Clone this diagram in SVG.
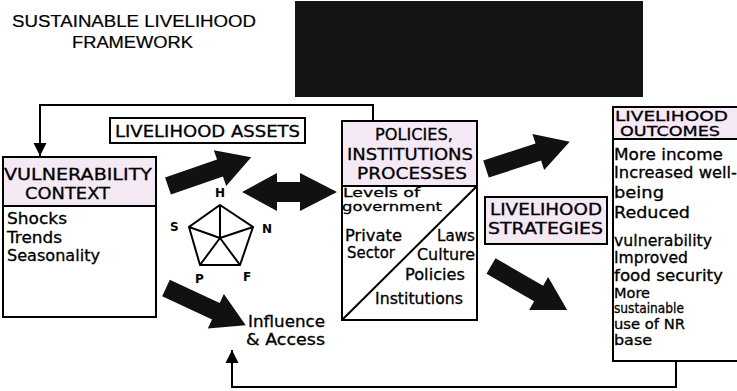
<svg xmlns="http://www.w3.org/2000/svg" width="737" height="391" viewBox="0 0 737 391">
<style>
.box{fill:#fff;stroke:#000;stroke-width:2}
.hd{fill:#f5e9f5;stroke:#000;stroke-width:2}
.t{font-family:"DejaVu Sans","Liberation Sans",sans-serif;font-size:15.5px;fill:#000;stroke:#000;stroke-width:0.3}
.s{font-family:"DejaVu Sans","Liberation Sans",sans-serif;font-size:14px;fill:#000;stroke:#000;stroke-width:0.3}
.xs{font-family:"DejaVu Sans","Liberation Sans",sans-serif;font-size:12.5px;fill:#000;stroke:#000;stroke-width:0.3}
.h{font-family:"DejaVu Sans","Liberation Sans",sans-serif;font-size:15.5px;fill:#000;stroke:#000;stroke-width:0.3}
.ttl{font-family:"Liberation Sans",Arial,sans-serif;font-size:16px;fill:#000;stroke:#000;stroke-width:0.2}
.lbl{font-family:"DejaVu Sans",sans-serif;font-size:12px;font-weight:bold;fill:#000}
.ln{fill:none;stroke:#000;stroke-width:2}
.big{fill:#111}
</style>
<defs>
<path id="fat" d="M0,-9 L55,-9 L55,-19 L88,0 L55,19 L55,9 L0,9 Z"/>
<marker id="ah" viewBox="0 0 10 10" refX="10" refY="5" markerWidth="13" markerHeight="18" markerUnits="userSpaceOnUse" orient="auto"><path d="M0,0 L10,5 L0,10 Z" fill="#000"/></marker>
</defs>
<rect width="737" height="391" fill="#fff"/>

<g id="title">
<text class="ttl" x="12" y="27" textLength="244" lengthAdjust="spacingAndGlyphs">SUSTAINABLE LIVELIHOOD</text>
<text class="ttl" x="72" y="48" textLength="121" lengthAdjust="spacingAndGlyphs">FRAMEWORK</text>
</g>

<g id="blackbox"><rect x="295" y="1" width="348" height="96" fill="#141414"/></g>

<g id="connectors">
<path class="ln" d="M373,121 V105 H40 V156" marker-end="url(#ah)"/>
<path class="ln" d="M676,361 V387 H232 V350" marker-end="url(#ah)"/>
<use href="#fat" class="big" transform="translate(168,186) rotate(-19)"/>
<use href="#fat" class="big" transform="translate(486,169) rotate(-18)"/>
<use href="#fat" class="big" transform="translate(166,288) rotate(25)"/>
<use href="#fat" class="big" transform="translate(491,266) rotate(30)"/>
<path class="big" d="M242,192 L277,173 L277,182 L300,182 L300,173 L337,192 L300,211 L300,202 L277,202 L277,211 Z"/>
</g>

<g id="vulnerability">
<rect class="box" x="3" y="157" width="153" height="160"/>
<rect class="hd" x="3" y="157" width="153" height="49"/>
<text class="h" x="4" y="180" textLength="148" lengthAdjust="spacingAndGlyphs">VULNERABILITY</text>
<text class="h" x="25" y="199" textLength="85" lengthAdjust="spacingAndGlyphs">CONTEXT</text>
<text class="t" x="7" y="224" textLength="60" lengthAdjust="spacingAndGlyphs">Shocks</text>
<text class="t" x="7" y="243" textLength="55" lengthAdjust="spacingAndGlyphs">Trends</text>
<text class="t" x="7" y="261" textLength="93" lengthAdjust="spacingAndGlyphs">Seasonality</text>
</g>

<g id="assets">
<rect class="box" x="110" y="118" width="195" height="25"/>
<text class="h" x="115" y="137" textLength="185" lengthAdjust="spacingAndGlyphs">LIVELIHOOD ASSETS</text>
</g>

<g id="pentagon">
<path class="ln" d="M220,205 L253,227 L240,265 L200,265 L189,227 Z M220,238 L220,205 M220,238 L253,227 M220,238 L240,265 M220,238 L200,265 M220,238 L189,227"/>
<text class="lbl" x="215" y="197">H</text>
<text class="lbl" x="170" y="231">S</text>
<text class="lbl" x="262" y="233">N</text>
<text class="lbl" x="195" y="283">P</text>
<text class="lbl" x="243" y="281">F</text>
</g>

<g id="influence">
<text class="t" x="248" y="327" textLength="77" lengthAdjust="spacingAndGlyphs">Influence</text>
<text class="t" x="246" y="345" textLength="79" lengthAdjust="spacingAndGlyphs">&amp; Access</text>
</g>

<g id="policies">
<rect class="box" x="342" y="121" width="135" height="199"/>
<rect class="hd" x="342" y="121" width="135" height="65"/>
<path class="ln" d="M342,320 L477,186"/>
<text class="h" x="375" y="140" textLength="78" lengthAdjust="spacingAndGlyphs">POLICIES,</text>
<text class="h" x="347" y="160" textLength="126" lengthAdjust="spacingAndGlyphs">INSTITUTIONS</text>
<text class="h" x="357" y="179" textLength="110" lengthAdjust="spacingAndGlyphs">PROCESSES</text>
<text class="xs" x="343" y="197" textLength="77" lengthAdjust="spacingAndGlyphs">Levels of</text>
<text class="xs" x="342" y="211" textLength="100" lengthAdjust="spacingAndGlyphs">government</text>
<text class="t" x="345" y="241" textLength="57" lengthAdjust="spacingAndGlyphs">Private</text>
<text class="t" x="347" y="258" textLength="48" lengthAdjust="spacingAndGlyphs">Sector</text>
<text class="t" x="437" y="241" textLength="38" lengthAdjust="spacingAndGlyphs">Laws</text>
<text class="t" x="417" y="260" textLength="58" lengthAdjust="spacingAndGlyphs">Culture</text>
<text class="t" x="405" y="280" textLength="60" lengthAdjust="spacingAndGlyphs">Policies</text>
<text class="t" x="375" y="304" textLength="88" lengthAdjust="spacingAndGlyphs">Institutions</text>
</g>

<g id="strategies">
<rect class="hd" x="485" y="197" width="122" height="47"/>
<text class="h" x="490" y="215" textLength="112" lengthAdjust="spacingAndGlyphs">LIVELIHOOD</text>
<text class="h" x="488" y="234" textLength="115" lengthAdjust="spacingAndGlyphs">STRATEGIES</text>
</g>

<g id="outcomes">
<rect class="box" x="613" y="107" width="130" height="254"/>
<rect class="hd" x="613" y="107" width="130" height="32"/>
<text class="s" x="615" y="121" textLength="113" lengthAdjust="spacingAndGlyphs">LIVELIHOOD</text>
<text class="s" x="620" y="136" textLength="100" lengthAdjust="spacingAndGlyphs">OUTCOMES</text>
<text class="t" x="614" y="160" textLength="109" lengthAdjust="spacingAndGlyphs">More income</text>
<text class="t" x="614" y="178" textLength="123" lengthAdjust="spacingAndGlyphs">Increased well-</text>
<text class="t" x="614" y="198" textLength="50" lengthAdjust="spacingAndGlyphs">being</text>
<text class="t" x="614" y="218" textLength="76" lengthAdjust="spacingAndGlyphs">Reduced</text>
<text class="t" x="614" y="246" textLength="98" lengthAdjust="spacingAndGlyphs">vulnerability</text>
<text class="t" x="614" y="263" textLength="74" lengthAdjust="spacingAndGlyphs">Improved</text>
<text class="t" x="614" y="281" textLength="109" lengthAdjust="spacingAndGlyphs">food security</text>
<text class="s" x="614" y="298" textLength="36" lengthAdjust="spacingAndGlyphs">More</text>
<text class="s" x="614" y="313" textLength="70" lengthAdjust="spacingAndGlyphs">sustainable</text>
<text class="s" x="614" y="329" textLength="71" lengthAdjust="spacingAndGlyphs">use of NR</text>
<text class="s" x="614" y="345" textLength="38" lengthAdjust="spacingAndGlyphs">base</text>
</g>
</svg>
